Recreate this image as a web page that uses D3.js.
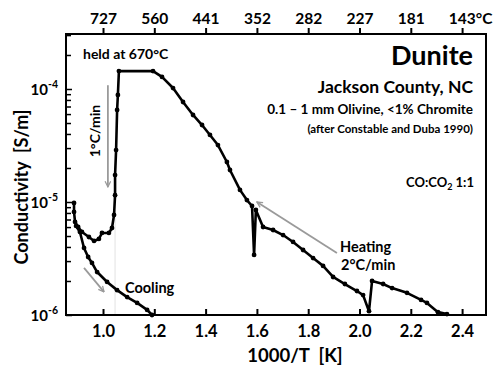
<!DOCTYPE html>
<html><head><meta charset="utf-8">
<script src="https://cdn.jsdelivr.net/npm/d3@7"></script>
<style>
body{margin:0;background:#fff}
text{font-family:Lato,"Open Sans",sans-serif;font-weight:700;fill:#000;white-space:pre}
</style>
</head><body>
<svg id="c" width="500" height="375"></svg>
<script>
// 1000/T values and conductivity (S/m) — heating run (right to left), hold, and drop
const heatX = [2.341,2.306,2.263,2.240,2.185,2.127,2.092,2.049,2.037,2.014,1.990,1.943,1.897,1.858,1.819,1.780,1.741,1.702,1.663,1.624,1.596,1.589,1.581,1.561,1.534,1.495,1.483,1.448,1.417,1.386,1.351,1.312,1.273,1.230,1.195,1.062,1.058,1.055,1.051,1.047,1.047,1.043,1.035,1.023,0.996,0.984,0.965,0.945,0.918,0.903,0.891,0.887,0.887];
const heatY = [1.02e-6,1.06e-6,1.28e-6,1.36e-6,1.57e-6,1.73e-6,1.88e-6,2.00e-6,1.08e-6,1.50e-6,1.63e-6,1.88e-6,2.17e-6,2.72e-6,3.19e-6,3.76e-6,4.43e-6,5.10e-6,5.65e-6,6.01e-6,8.50e-6,3.40e-6,9.22e-6,1.04e-5,1.28e-5,1.92e-5,2.26e-5,3.19e-5,3.92e-5,4.80e-5,5.89e-5,7.67e-5,1.02e-4,1.28e-4,1.44e-4,1.44e-4,8.85e-5,6.52e-5,2.88e-5,1.73e-5,1.15e-5,7.67e-6,5.89e-6,5.32e-6,5.32e-6,4.71e-6,4.52e-6,4.90e-6,5.43e-6,6.01e-6,6.65e-6,8.17e-6,9.80e-6];
// cooling run
const coolX = [0.895,0.910,0.926,0.942,0.957,0.977,1.016,1.055,1.094,1.133,1.172,1.191];
const coolY = [6.14e-6,5.43e-6,3.92e-6,3.26e-6,2.89e-6,2.40e-6,1.96e-6,1.66e-6,1.44e-6,1.28e-6,1.11e-6,1.00e-6];
// ticks
const xTicks = [1.0,1.2,1.4,1.6,1.8,2.0,2.2,2.4];
const topTickLabels = ["727","560","441","352","282","227","181","143°C"];
const yDecades = [-6,-5,-4];

const svg = d3.select("#c");
const x = d3.scaleLinear().domain([0.8557,2.4932]).range([66,486]);
const y = d3.scaleLog().domain([1e-6,3.067e-4]).range([315,34]);

// faint guide line
svg.append("line").attr("x1",x(1.047)).attr("x2",x(1.047)).attr("y1",y(8.5e-6)).attr("y2",y(1e-6))
  .attr("stroke","#e2e2e2").attr("stroke-width",1);

// bottom axis (ticks inward)
const gb = svg.append("g").attr("transform","translate(0,315)")
  .call(d3.axisBottom(x).tickValues(xTicks).tickSize(-6).tickFormat(d3.format(".1f")).tickPadding(10));
gb.select(".domain").remove();
gb.selectAll("line").attr("stroke","#000").attr("stroke-width",2);
gb.selectAll("text").style("font-size","16.5px").style("font-family","Lato").style("font-weight","700");

// top axis (ticks outward)
const gt = svg.append("g").attr("transform","translate(0,34)")
  .call(d3.axisTop(x).tickValues(xTicks).tickSize(6).tickPadding(4).tickFormat((d,i)=>topTickLabels[i]));
gt.select(".domain").remove();
gt.selectAll("line").attr("stroke","#000").attr("stroke-width",2);
gt.selectAll("text").style("font-size","15.5px").style("font-family","Lato").style("font-weight","700");
gt.selectAll(".tick").filter((d,i)=>i===topTickLabels.length-1).select("text").attr("dx","8");

// left axis: major + minor ticks inward
const yTickVals = [];
for (let e=-6;e<=-4;e++) for (let m=1;m<=9;m++){ const v=m*Math.pow(10,e); if(v<=3.067e-4) yTickVals.push(v); }
const gl = svg.append("g").attr("transform","translate(66,0)")
  .call(d3.axisRight(y).tickValues(yTickVals).tickSize(6).tickFormat(""));
gl.select(".domain").remove();
gl.selectAll("line").attr("stroke","#000").attr("stroke-width",1.5)
  .attr("x2",d=>{const m=Math.round(d/Math.pow(10,Math.floor(Math.log10(d)+1e-9)));return m===1?6:5;});
yDecades.forEach(e=>{
  const yy = y(Math.pow(10,e));
  svg.append("text").attr("x",48).attr("y",yy+6).attr("text-anchor","end").style("font-size","15px").text("10");
  svg.append("text").attr("x",48).attr("y",yy-1).attr("text-anchor","start").style("font-size","10.5px").text("-"+Math.abs(e));
});

// frame
svg.append("rect").attr("x",66).attr("y",34).attr("width",420).attr("height",281)
  .attr("fill","none").attr("stroke","#000").attr("stroke-width",2);

// axis titles
svg.append("text").attr("x",295).attr("y",362).attr("text-anchor","middle").style("font-size","18.5px").text("1000/T  [K]");
svg.append("text").attr("transform","translate(28,187) rotate(-90)").attr("text-anchor","middle").style("font-size","18px").text("Conductivity  [S/m]");

// arrows
const defs = svg.append("defs");
defs.append("marker").attr("id","ah").attr("viewBox","0 0 10 10").attr("refX",9).attr("refY",5)
  .attr("markerWidth",7).attr("markerHeight",7).attr("orient","auto").attr("markerUnits","userSpaceOnUse")
  .append("path").attr("d","M1,1 L9,5 L1,9").attr("fill","none").attr("stroke","#9a9a9a").attr("stroke-width",1.8);
const arrow=(x1,y1,x2,y2)=>svg.append("line").attr("x1",x(x1)).attr("y1",y(y1)).attr("x2",x(x2)).attr("y2",y(y2))
  .attr("stroke","#9a9a9a").attr("stroke-width",1.8).attr("marker-end","url(#ah)");
arrow(1.019,1.08e-4,1.019,1.36e-5);
arrow(0.926,2.61e-6,1.004,1.60e-6);
arrow(1.912,3.54e-6,1.600,1.0e-5);

// data lines
const line = d3.line().x(d=>x(d[0])).y(d=>y(d[1]));
const heat = heatX.map((v,i)=>[v,heatY[i]]);
const cool = coolX.map((v,i)=>[v,coolY[i]]);
[heat,cool].forEach(s=>{
  svg.append("path").datum(s).attr("d",line).attr("fill","none").attr("stroke","#000").attr("stroke-width",2.6).attr("stroke-linejoin","round");
  svg.selectAll(null).data(s).enter().append("circle").attr("cx",d=>x(d[0])).attr("cy",d=>y(d[1])).attr("r",2.4).attr("fill","#000");
});

// annotations
const t=(xx,yy,s,size,anchor)=>svg.append("text").attr("x",xx).attr("y",yy).attr("text-anchor",anchor||"start").style("font-size",size+"px").text(s);
t(473,65,"Dunite",27,"end");
t(473,93,"Jackson County, NC",17.5,"end");
t(473,114,"0.1 – 1 mm Olivine, <1% Chromite",13.5,"end");
t(473,133,"(after Constable and Duba 1990)",11.5,"end");
const co = svg.append("text").attr("x",474).attr("y",187).attr("text-anchor","end").style("font-size","13px");
co.append("tspan").text("CO:CO");
co.append("tspan").attr("dy",3).style("font-size","9px").text("2");
co.append("tspan").attr("dy",-3).text(" 1:1");
t(83,59,"held at 670°C",14);
svg.append("text").attr("transform","translate(100,131) rotate(-90)").attr("text-anchor","middle").style("font-size","14px").text("1°C/min");
t(125,293,"Cooling",14.5);
t(340,252,"Heating",14.5);
t(341,270,"2°C/min",14.5);
</script>
</body></html>
